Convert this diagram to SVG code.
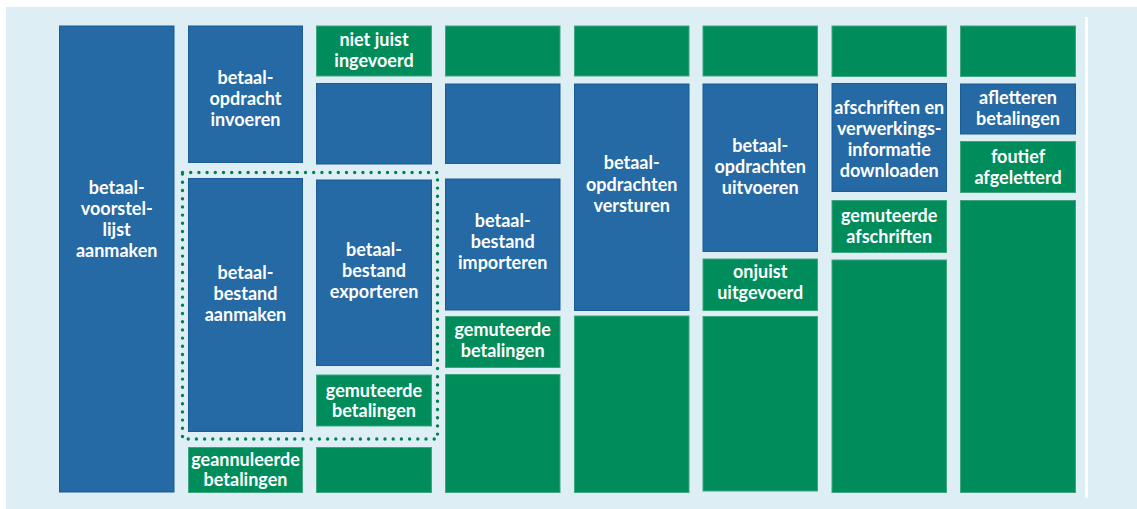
<svg xmlns="http://www.w3.org/2000/svg" width="1137" height="509" viewBox="0 0 1137 509">
<style>
.bg{fill:#DDEEF5}
.b{fill:#2569A5;stroke:#1B5B97;stroke-width:1}
.g{fill:#008C5B;stroke:#3FA57E;stroke-width:1}
.t{font-family:Lato,"Open Sans","Liberation Sans",sans-serif;font-weight:700;font-size:18px;fill:#FFFFFF;text-anchor:middle}
.dot{fill:none;stroke:#00804F;stroke-width:3.4;stroke-linecap:round;stroke-dasharray:0 8.2}
</style>
<rect width="1137" height="509" fill="#FFFFFF"/>
<rect class="bg" x="6" y="7" width="1131" height="502"/>
<rect x="1085" y="17" width="3" height="481" fill="#FFFFFF"/>

<g id="c1-voorstellijst"><rect class="b" x="59.5" y="26" width="114.5" height="466"/>
<text class="t"><tspan x="116.7" y="193.5">betaal-</tspan><tspan x="116.7" y="214.8">voorstel-</tspan><tspan x="116.7" y="236.1">lijst</tspan><tspan x="116.7" y="257.4">aanmaken</tspan></text></g>

<g id="c2-invoeren"><rect class="b" x="188.5" y="26" width="114" height="136.5"/>
<text class="t"><tspan x="245.5" y="84">betaal-</tspan><tspan x="245.5" y="105">opdracht</tspan><tspan x="245.5" y="126">invoeren</tspan></text></g>
<g id="c2-aanmaken"><rect class="b" x="188.5" y="178.5" width="114" height="253"/>
<text class="t"><tspan x="245.5" y="278.5">betaal-</tspan><tspan x="245.5" y="299.5">bestand</tspan><tspan x="245.5" y="320.5">aanmaken</tspan></text></g>
<g id="c2-geannuleerd"><rect class="g" x="188.5" y="447.5" width="114" height="45"/>
<text class="t"><tspan x="245.5" y="465.5">geannuleerde</tspan><tspan x="245.5" y="485.5">betalingen</tspan></text></g>

<g id="c3-nietjuist"><rect class="g" x="316.5" y="26" width="115" height="50"/>
<text class="t"><tspan x="374" y="45.7">niet juist</tspan><tspan x="374" y="66.7">ingevoerd</tspan></text></g>
<g id="c3-leeg1"><rect class="b" x="316.5" y="83.5" width="115" height="80.5"/></g>
<g id="c3-exporteren"><rect class="b" x="316.5" y="180" width="115" height="185.5"/>
<text class="t"><tspan x="374" y="255.5">betaal-</tspan><tspan x="374" y="276.7">bestand</tspan><tspan x="374" y="298">exporteren</tspan></text></g>
<g id="c3-gemuteerd"><rect class="g" x="316.5" y="375" width="115" height="51"/>
<text class="t"><tspan x="374" y="396.5">gemuteerde</tspan><tspan x="374" y="416.5">betalingen</tspan></text></g>
<g id="c3-leeg2"><rect class="g" x="316.5" y="447.5" width="115" height="45"/></g>

<g id="c4-leeg1"><rect class="g" x="445.5" y="26" width="114.5" height="50"/></g>
<g id="c4-leeg2"><rect class="b" x="445.5" y="84" width="114.5" height="79.5"/></g>
<g id="c4-importeren"><rect class="b" x="445.5" y="179" width="114.5" height="131"/>
<text class="t"><tspan x="502.7" y="226.5">betaal-</tspan><tspan x="502.7" y="247.5">bestand</tspan><tspan x="502.7" y="268.5">importeren</tspan></text></g>
<g id="c4-gemuteerd"><rect class="g" x="445.5" y="316.5" width="114.5" height="51"/>
<text class="t"><tspan x="502.7" y="336">gemuteerde</tspan><tspan x="502.7" y="356.5">betalingen</tspan></text></g>
<g id="c4-leeg3"><rect class="g" x="445.5" y="374.5" width="114.5" height="118"/></g>

<g id="c5-leeg1"><rect class="g" x="574.5" y="26" width="114.5" height="50"/></g>
<g id="c5-versturen"><rect class="b" x="574.5" y="84" width="114.5" height="226.5"/>
<text class="t"><tspan x="631.7" y="169.3">betaal-</tspan><tspan x="631.7" y="190.5">opdrachten</tspan><tspan x="631.7" y="211.7">versturen</tspan></text></g>
<g id="c5-leeg2"><rect class="g" x="574.5" y="316" width="114.5" height="176.5"/></g>

<g id="c6-leeg1"><rect class="g" x="703" y="26" width="114.5" height="50"/></g>
<g id="c6-uitvoeren"><rect class="b" x="703" y="84" width="114.5" height="167.5"/>
<text class="t"><tspan x="760.2" y="151.7">betaal-</tspan><tspan x="760.2" y="172.7">opdrachten</tspan><tspan x="760.2" y="193.5">uitvoeren</tspan></text></g>
<g id="c6-onjuist"><rect class="g" x="703" y="259" width="114.5" height="51.5"/>
<text class="t"><tspan x="760.2" y="278.3">onjuist</tspan><tspan x="760.2" y="299">uitgevoerd</tspan></text></g>
<g id="c6-leeg2"><rect class="g" x="703" y="316.5" width="114.5" height="174.5"/></g>

<g id="c7-leeg1"><rect class="g" x="832" y="26" width="114.5" height="50.5"/></g>
<g id="c7-downloaden"><rect class="b" x="832" y="83.5" width="114.5" height="108"/>
<text class="t"><tspan x="889.2" y="113.5">afschriften en</tspan><tspan x="889.2" y="134.5">verwerkings-</tspan><tspan x="889.2" y="155.7">informatie</tspan><tspan x="889.2" y="176.7">downloaden</tspan></text></g>
<g id="c7-gemuteerd"><rect class="g" x="832" y="200.5" width="114.5" height="52"/>
<text class="t"><tspan x="889.2" y="221.7">gemuteerde</tspan><tspan x="889.2" y="242.7">afschriften</tspan></text></g>
<g id="c7-leeg2"><rect class="g" x="832" y="260" width="114.5" height="232.5"/></g>

<g id="c8-leeg1"><rect class="g" x="960.5" y="26" width="115" height="50.5"/></g>
<g id="c8-afletteren"><rect class="b" x="960.5" y="84" width="115" height="50"/>
<text class="t"><tspan x="1018" y="104">afletteren</tspan><tspan x="1018" y="125">betalingen</tspan></text></g>
<g id="c8-foutief"><rect class="g" x="960.5" y="141.5" width="115" height="51"/>
<text class="t"><tspan x="1018" y="163.3">foutief</tspan><tspan x="1018" y="184.3">afgeletterd</tspan></text></g>
<g id="c8-leeg2"><rect class="g" x="960.5" y="200.5" width="115" height="292"/></g>

<g id="connectors"><rect class="dot" x="182.5" y="172.5" width="255" height="266.5"/></g>
</svg>
